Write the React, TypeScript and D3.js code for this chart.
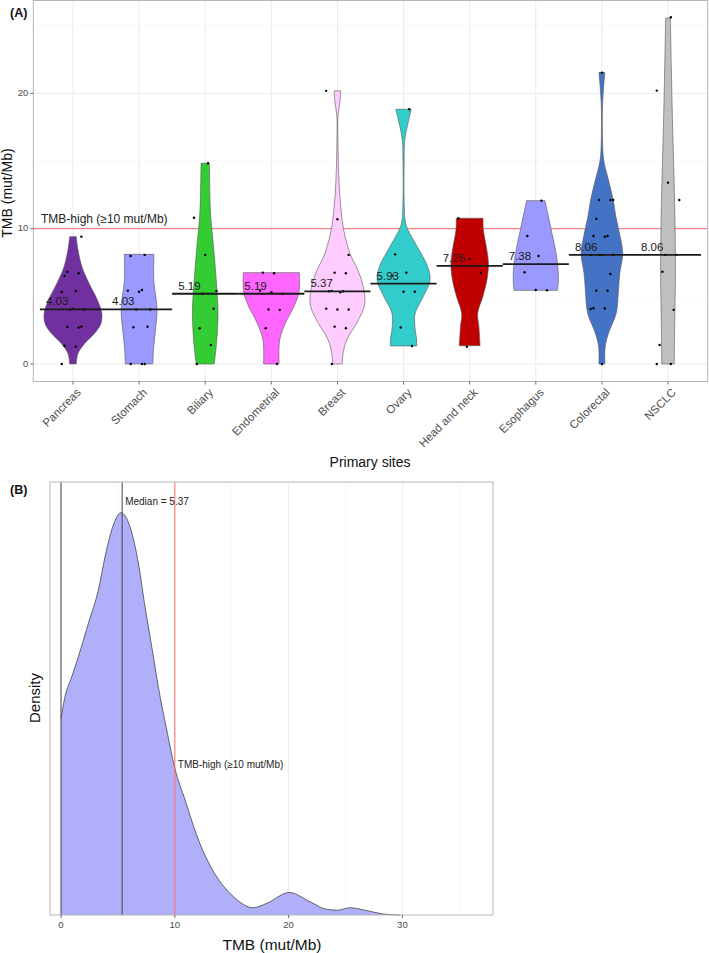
import React from 'react';
import * as d3 from 'd3';

// ---------- Panel A data ----------
const categories = ['Pancreas', 'Stomach', 'Biliary', 'Endometrial', 'Breast', 'Ovary', 'Head and neck', 'Esophagus', 'Colorectal', 'NSCLC'];
const medians = [4.03, 4.03, 5.19, 5.19, 5.37, 5.93, 7.25, 7.38, 8.06, 8.06];
const fills = ['#7030A0', '#9999FF', '#33CC33', '#FF66FF', '#FFCCFF', '#33CCCC', '#C00000', '#9999FF', '#4472C4', '#BFBFBF'];

const pancreasTmb = [0, 1.28, 1.35, 2.7, 2.73, 2.76, 4.03, 4.03, 4.06, 5.32, 5.39, 6.5, 6.7, 6.82, 9.41];
const stomachTmb = [0, 0, 0, 2.71, 2.76, 4.03, 4.03, 5.34, 5.42, 5.47, 7.98, 8.06];
const biliaryTmb = [0, 1.4, 2.64, 4.09, 5.19, 5.4, 8.06, 10.81, 14.83];
const endometrialTmb = [0, 2.64, 4.0, 4.03, 5.19, 5.3, 5.42, 6.7, 6.75];
const breastTmb = [0, 2.64, 2.76, 4.03, 4.03, 4.09, 5.3, 5.37, 5.37, 5.4, 6.7, 6.75, 8.06, 10.69, 20.18];
const ovaryTmb = [1.33, 2.69, 5.34, 5.34, 6.52, 6.75, 8.1, 18.82];
const headNeckTmb = [1.28, 6.75, 7.75, 10.77];
const esophagusTmb = [5.44, 5.47, 6.78, 7.98, 9.46, 12.07];
const colorectalTmb = [0, 4.06, 4.1, 4.12, 5.42, 5.42, 6.65, 8.06, 8.06, 8.06, 8.06, 9.4, 9.46, 9.46, 10.72, 12.12, 12.12, 12.12, 21.53];
const nsclcTmb = [0, 0, 1.4, 4.0, 6.82, 8.06, 8.06, 12.12, 13.4, 20.2, 25.62];
const pointsByCategory = [pancreasTmb, stomachTmb, biliaryTmb, endometrialTmb, breastTmb, ovaryTmb, headNeckTmb, esophagusTmb, colorectalTmb, nsclcTmb];

// violin density profiles: [TMB, relative width]
const pancreasViolin: [number, number][] = [[9.41, 0.11], [8.43, 0.17], [7.19, 0.3], [5.96, 0.54], [4.73, 0.82], [3.75, 0.97], [3.0, 0.94], [2.27, 0.73], [1.53, 0.4], [0.79, 0.17], [0, 0.11]];
const stomachViolin: [number, number][] = [[8.1, 0.5], [7.2, 0.49], [6.0, 0.5], [4.7, 0.58], [3.7, 0.6], [2.5, 0.55], [1.2, 0.49], [0, 0.46]];
const biliaryViolin: [number, number][] = [[14.83, 0.14], [11.14, 0.18], [8.67, 0.28], [6.21, 0.37], [3.75, 0.43], [1.28, 0.37], [0, 0.3]];
const endometrialViolin: [number, number][] = [[6.75, 0.94], [6.0, 0.95], [5.22, 0.92], [4.24, 0.76], [3.0, 0.47], [1.77, 0.28], [0, 0.26]];
const breastViolin: [number, number][] = [[20.18, 0.11], [19.27, 0.08], [18.3, 0.02], [16.06, 0.02], [13.6, 0.05], [11.63, 0.11], [9.9, 0.21], [8.18, 0.42], [6.7, 0.73], [5.22, 0.91], [4.24, 0.9], [3.0, 0.64], [1.77, 0.31], [0.79, 0.19], [0, 0.16]];
const ovaryViolin: [number, number][] = [[18.82, 0.26], [17.79, 0.15], [16.56, 0.04], [15.0, 0.02], [12.0, 0.02], [10.5, 0.06], [9.9, 0.15], [8.67, 0.46], [7.19, 0.81], [6.21, 0.89], [4.97, 0.66], [3.75, 0.39], [2.76, 0.38], [1.77, 0.44], [1.33, 0.44]];
const headNeckViolin: [number, number][] = [[10.77, 0.45], [9.9, 0.46], [8.67, 0.56], [7.44, 0.63], [6.21, 0.58], [4.97, 0.44], [3.75, 0.27], [2.76, 0.31], [1.35, 0.35]];
const esophagusViolin: [number, number][] = [[12.07, 0.31], [11.14, 0.4], [9.9, 0.52], [8.67, 0.64], [7.44, 0.73], [6.21, 0.76], [5.44, 0.73]];
const colorectalViolin: [number, number][] = [[21.53, 0.1], [20.5, 0.06], [19.02, 0.02], [16.56, 0.02], [15.08, 0.06], [13.6, 0.22], [12.12, 0.38], [10.89, 0.47], [9.66, 0.59], [8.18, 0.7], [6.7, 0.6], [5.22, 0.55], [3.75, 0.48], [2.27, 0.22], [1.28, 0.11], [0, 0.1]];
const nsclcViolin: [number, number][] = [[25.55, 0.08], [21.97, 0.11], [17.05, 0.16], [12.12, 0.22], [7.19, 0.25], [2.27, 0.22], [0, 0.21]];
const violinsByCategory = [pancreasViolin, stomachViolin, biliaryViolin, endometrialViolin, breastViolin, ovaryViolin, headNeckViolin, esophagusViolin, colorectalViolin, nsclcViolin];

const yTicksA = [0, 10, 20];
const yMinorA = [5, 15, 25];
const tmbHigh = 10;

// ---------- Panel B data ----------
const densityTmb = [0, 0.35, 0.94, 1.52, 2.4, 3.28, 3.87, 4.45, 5.27, 6.06, 6.8, 7.38, 7.97, 8.55, 9.29, 10, 10.9, 12.1, 13.68, 15.14, 16.9, 18.08, 20.06, 21.88, 23.35, 24.3, 25.4, 26.86, 28.3, 29.8];
const densityRel = [0.489, 0.543, 0.592, 0.642, 0.725, 0.808, 0.891, 0.957, 1.0, 0.965, 0.874, 0.766, 0.667, 0.567, 0.46, 0.365, 0.286, 0.185, 0.095, 0.046, 0.018, 0.029, 0.056, 0.033, 0.014, 0.012, 0.018, 0.011, 0.0025, 0];
const overallMedian = 5.37;
const xTicksB = [0, 10, 20, 30];
const xMinorB = [5, 15, 25, 35];

const FONT = 'Liberation Sans, Arial, Helvetica, sans-serif';

export default function App() {
  const W = 709, H = 953;

  // Panel A
  const aL = 33.3, aR = 707.7, aT = 0.5, aB = 381.5;
  const x = d3.scalePoint<string>().domain(categories).range([aL, aR]).padding(0.6);
  const step = x.step();
  const y = d3.scaleLinear().domain([-1.28, 26.88]).range([381.3, 0.2]);
  const maxHalf = step * 0.45;

  // Panel B
  const bL = 50, bR = 493, bT = 482, bB = 915;
  const xB = d3.scaleLinear().domain([-0.97, 37.96]).range([bL, bR]);
  const yB = d3.scaleLinear().domain([0, 1]).range([bB, 512.7]);
  const densData = densityTmb.map((t, i) => [t, densityRel[i]] as [number, number]);
  const densArea = d3.area<[number, number]>().x(d => xB(d[0])).y0(bB).y1(d => yB(d[1])).curve(d3.curveMonotoneX);
  const densLine = d3.line<[number, number]>().x(d => xB(d[0])).y(d => yB(d[1])).curve(d3.curveMonotoneX);

  const jitter = (j: number) => (((j * 5) % 9) - 4) / 4 * 0.17 * step;

  return (
    <svg width={W} height={H} style={{ position: 'absolute', left: 0, top: 0, background: '#fff' }} fontFamily={FONT}>
      <rect x={0} y={0} width={W} height={H} fill="#fff" />
      {/* ---------- Panel A ---------- */}
      <rect x={aL} y={aT} width={aR - aL} height={aB - aT} fill="#fff" />
      {yMinorA.map(t => <line key={'ym' + t} x1={aL} x2={aR} y1={y(t)} y2={y(t)} stroke="#f4f4f4" strokeWidth={0.6} />)}
      {yTicksA.map(t => <line key={'yg' + t} x1={aL} x2={aR} y1={y(t)} y2={y(t)} stroke="#ebebeb" strokeWidth={1} />)}
      {categories.map(c => <line key={'xg' + c} x1={x(c)} x2={x(c)} y1={aT} y2={aB} stroke="#ebebeb" strokeWidth={1} />)}
      <line x1={aL} x2={aR} y1={y(tmbHigh)} y2={y(tmbHigh)} stroke="#FF6B6B" strokeWidth={1} />
      <text x={41} y={y(tmbHigh) - 9} fontSize={12} fill="#222" dominantBaseline="middle">TMB-high (≥10 mut/Mb)</text>
      {categories.map((c, i) => {
        const cx = x(c)!;
        const area = d3.area<[number, number]>()
          .y(d => y(d[0]))
          .x0(d => cx - d[1] * maxHalf)
          .x1(d => cx + d[1] * maxHalf)
          .curve(d3.curveCatmullRom.alpha(0.5));
        return <path key={'v' + c} d={area(violinsByCategory[i]) || ''} fill={fills[i]} stroke="#555" strokeWidth={0.6} />;
      })}
      {categories.map((c, i) => {
        const cx = x(c)!;
        return pointsByCategory[i].map((v, j) => (
          <circle key={'p' + c + j} cx={cx + jitter(j + i)} cy={y(v)} r={1.2} fill="#000" />
        ));
      })}
      {categories.map((c, i) => {
        const cx = x(c)!;
        return (
          <g key={'m' + c}>
            <line x1={cx - step / 2} x2={cx + step / 2} y1={y(medians[i])} y2={y(medians[i])} stroke="#1a1a1a" strokeWidth={1.8} />
            <text x={cx - 27} y={y(medians[i]) - 4} fontSize={11.5} fill="#1a1a1a">{medians[i].toFixed(2)}</text>
          </g>
        );
      })}
      <rect x={aL} y={aT} width={aR - aL} height={aB - aT} fill="none" stroke="#b5b5b5" strokeWidth={1} />
      {yTicksA.map(t => (
        <g key={'yt' + t}>
          <line x1={aL - 3} x2={aL} y1={y(t)} y2={y(t)} stroke="#444" strokeWidth={0.8} />
          <text x={aL - 5} y={y(t)} fontSize={9.6} fill="#4d4d4d" textAnchor="end" dominantBaseline="middle">{t}</text>
        </g>
      ))}
      {categories.map(c => (
        <g key={'xt' + c}>
          <line x1={x(c)} x2={x(c)} y1={aB} y2={aB + 3} stroke="#444" strokeWidth={0.8} />
          <text transform={`translate(${x(c)! + 3},${aB + 6}) rotate(-45)`} fontSize={11.5} fill="#4d4d4d" textAnchor="end" dy="0.7em">{c}</text>
        </g>
      ))}
      <text transform={`translate(12,193) rotate(-90)`} fontSize={14} fill="#111" textAnchor="middle">TMB (mut/Mb)</text>
      <text x={370} y={467} fontSize={14} fill="#111" textAnchor="middle">Primary sites</text>
      <text x={10} y={17} fontSize={12.5} fontWeight="bold" fill="#111">(A)</text>

      {/* ---------- Panel B ---------- */}
      <rect x={bL} y={bT} width={bR - bL} height={bB - bT} fill="#fff" />
      {xMinorB.map(t => <line key={'bm' + t} x1={xB(t)} x2={xB(t)} y1={bT} y2={bB} stroke="#f4f4f4" strokeWidth={0.6} />)}
      {xTicksB.map(t => <line key={'bg' + t} x1={xB(t)} x2={xB(t)} y1={bT} y2={bB} stroke="#ebebeb" strokeWidth={1} />)}
      <path d={densArea(densData) || ''} fill="#B0B0FA" />
      <path d={densLine(densData) || ''} fill="none" stroke="#444" strokeWidth={0.8} />
      <line x1={xB(0)} x2={xB(0)} y1={bT} y2={bB} stroke="#444" strokeWidth={1} />
      <line x1={xB(overallMedian)} x2={xB(overallMedian)} y1={bT} y2={bB} stroke="#444" strokeWidth={1} />
      <line x1={xB(tmbHigh)} x2={xB(tmbHigh)} y1={bT} y2={bB} stroke="#FF6B6B" strokeWidth={1} />
      <text x={xB(overallMedian) + 3} y={502} fontSize={10} fill="#222" dominantBaseline="middle">Median = {overallMedian}</text>
      <text x={xB(tmbHigh) + 3} y={765} fontSize={10} fill="#222" dominantBaseline="middle">TMB-high (≥10 mut/Mb)</text>
      <rect x={bL} y={bT} width={bR - bL} height={bB - bT} fill="none" stroke="#b5b5b5" strokeWidth={1} />
      {xTicksB.map(t => (
        <g key={'bt' + t}>
          <line x1={xB(t)} x2={xB(t)} y1={bB} y2={bB + 3} stroke="#444" strokeWidth={0.8} />
          <text x={xB(t)} y={925} fontSize={9.6} fill="#4d4d4d" textAnchor="middle" dominantBaseline="middle">{t}</text>
        </g>
      ))}
      <text x={272} y={950} fontSize={15.5} fill="#111" textAnchor="middle">TMB (mut/Mb)</text>
      <text transform={`translate(40,698) rotate(-90)`} fontSize={15} fill="#111" textAnchor="middle">Density</text>
      <text x={10} y={494} fontSize={12.5} fontWeight="bold" fill="#111">(B)</text>
    </svg>
  );
}
